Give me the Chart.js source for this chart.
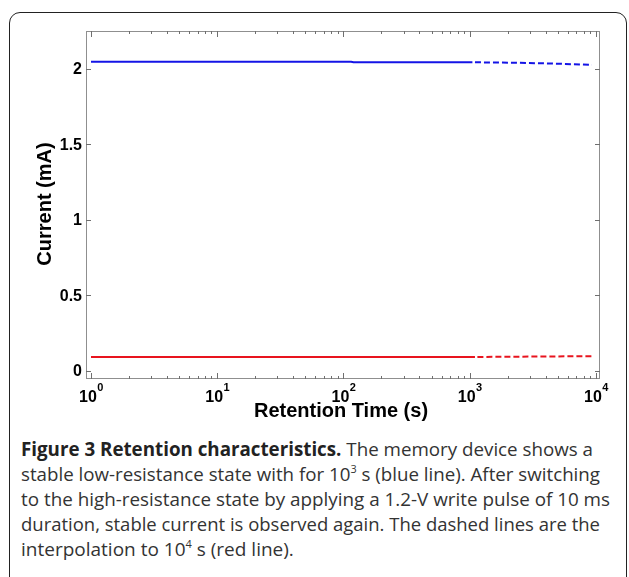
<!DOCTYPE html>
<html>
<head>
<meta charset="utf-8">
<script src="https://cdn.jsdelivr.net/npm/chart.js@4.4.1/dist/chart.umd.min.js"></script>
<style>
    html, body { margin: 0; padding: 0; background: #fff; }
    body { width: 629px; height: 577px; position: relative; overflow: hidden; }
    #frame {
        position: absolute; left: 9px; top: 12px; width: 618px; height: 600px;
        border: 1.6px solid #222; border-radius: 11px; box-sizing: border-box;
    }
    #chart-wrap { position: absolute; left: 0; top: 0; width: 629px; height: 430px; }
    #caption {
        position: absolute; left: 21px; top: 437px; width: 605px;
        font-family: "Open Sans", Lato, sans-serif; font-size: 19px; line-height: 25px;
        color: #333; white-space: nowrap;
    }
    #caption .ln { display: block; height: 25px; }
    #caption .ln span { display: inline-block; transform-origin: 0 50%; }
    #caption b { font-weight: bold; color: #222; }
    #caption sup { font-size: 11px; line-height: 0; vertical-align: 8px; }
</style>
</head>
<body>
<div id="frame"></div>
<div id="chart-wrap"><canvas id="retention-chart" width="629" height="430"></canvas></div>
<div id="caption">
    <div class="ln" data-w="572"><span><b>Figure 3 Retention characteristics.</b> The memory device shows a</span></div>
    <div class="ln" data-w="579"><span>stable low-resistance state with for 10<sup>3</sup> s (blue line). After switching</span></div>
    <div class="ln" data-w="589"><span>to the high-resistance state by applying a 1.2-V write pulse of 10 ms</span></div>
    <div class="ln" data-w="579"><span>duration, stable current is observed again. The dashed lines are the</span></div>
    <div class="ln" data-w="312"><span>interpolation to 10<sup>4</sup> s (red line).</span></div>
</div>
<script>
    // Measured data (time in s, current in mA)
    const lowResSolidTime = [1, 115, 120, 1050];
    const lowResSolidCurrent = [2.047, 2.047, 2.043, 2.043];
    const lowResDashedTime = [1100, 2300, 4400, 9300];
    const lowResDashedCurrent = [2.043, 2.040, 2.035, 2.026];

    const highResSolidTime = [1, 1100];
    const highResSolidCurrent = [0.093, 0.093];
    const highResDashedTime = [1150, 9300];
    const highResDashedCurrent = [0.093, 0.098];

    // Axis ticks
    const xDecades = [0, 1, 2, 3, 4];
    const yTicks = [0, 0.5, 1, 1.5, 2];
    const yTickLabels = ['0', '0.5', '1', '1.5', '2'];

    const toPoints = (xs, ys) => xs.map((x, i) => ({x: x, y: ys[i]}));

    const FONT = '"Liberation Sans", Arial, sans-serif';

    // squeeze caption lines that run wider than in the figure
    document.querySelectorAll('#caption .ln').forEach(ln => {
        const span = ln.querySelector('span');
        const target = parseFloat(ln.dataset.w);
        const w = span.getBoundingClientRect().width;
        span.style.transform = 'scaleX(' + Math.min(1, target / w) + ')';
    });

    const axisFramePlugin = {
        id: 'axisFrame',
        afterDraw(chart) {
            const ctx = chart.ctx;
            const area = chart.chartArea;
            const xScale = chart.scales.x;
            const yScale = chart.scales.y;

            ctx.save();
            ctx.strokeStyle = '#8f8f8f';
            ctx.lineWidth = 1;
            ctx.strokeRect(area.left + 0.5, area.top + 0.5, area.right - area.left - 1, area.bottom - area.top - 1);

            // x ticks, major and minor, inward on bottom and top
            ctx.strokeStyle = '#6f6f6f';
            ctx.beginPath();
            xDecades.forEach(d => {
                const major = Math.round(xScale.getPixelForValue(Math.pow(10, d))) + 0.5;
                ctx.moveTo(major, area.bottom); ctx.lineTo(major, area.bottom - 6);
                ctx.moveTo(major, area.top); ctx.lineTo(major, area.top + 6);
                if (d < xDecades[xDecades.length - 1]) {
                    for (let k = 2; k <= 9; k++) {
                        const px = Math.round(xScale.getPixelForValue(k * Math.pow(10, d))) + 0.5;
                        ctx.moveTo(px, area.bottom); ctx.lineTo(px, area.bottom - 3);
                        ctx.moveTo(px, area.top); ctx.lineTo(px, area.top + 3);
                    }
                }
            });
            // y ticks inward on left and right
            yTicks.forEach(v => {
                const py = Math.round(yScale.getPixelForValue(v)) + 0.5;
                ctx.moveTo(area.left, py); ctx.lineTo(area.left + 5, py);
                ctx.moveTo(area.right, py); ctx.lineTo(area.right - 5, py);
            });
            ctx.stroke();

            // tick labels
            ctx.fillStyle = '#000';
            ctx.font = 'bold 16px ' + FONT;
            ctx.textAlign = 'right';
            ctx.textBaseline = 'middle';
            yTicks.forEach((v, i) => {
                ctx.fillText(yTickLabels[i], area.left - 4, yScale.getPixelForValue(v) + 1);
            });

            ctx.textBaseline = 'alphabetic';
            ctx.textAlign = 'left';
            xDecades.forEach(d => {
                const px = xScale.getPixelForValue(Math.pow(10, d));
                ctx.font = 'bold 16px ' + FONT;
                const baseW = ctx.measureText('10').width;
                ctx.font = 'bold 11px ' + FONT;
                const expW = ctx.measureText(String(d)).width;
                const startX = px - (baseW + expW) / 2;
                ctx.font = 'bold 16px ' + FONT;
                ctx.fillText('10', startX, area.bottom + 23);
                ctx.font = 'bold 11px ' + FONT;
                ctx.fillText(String(d), startX + baseW + 0.5, area.bottom + 12);
            });

            // axis titles
            ctx.font = 'bold 20px ' + FONT;
            ctx.textAlign = 'center';
            ctx.fillText('Retention Time (s)', (area.left + area.right) / 2 - 2, area.bottom + 38);
            ctx.translate(45, (area.top + area.bottom) / 2 - 1);
            ctx.rotate(-Math.PI / 2);
            ctx.textBaseline = 'middle';
            ctx.fillText('Current (mA)', 0, 0);
            ctx.restore();
        }
    };

    new Chart(document.getElementById('retention-chart'), {
        type: 'line',
        data: {
            datasets: [
                {
                    label: 'LRS',
                    data: toPoints(lowResSolidTime, lowResSolidCurrent),
                    borderColor: '#1414e6',
                    borderWidth: 2
                },
                {
                    label: 'LRS extrapolated',
                    data: toPoints(lowResDashedTime, lowResDashedCurrent),
                    borderColor: '#1414e6',
                    borderWidth: 2,
                    borderDash: [6, 3]
                },
                {
                    label: 'HRS',
                    data: toPoints(highResSolidTime, highResSolidCurrent),
                    borderColor: '#e8141e',
                    borderWidth: 2
                },
                {
                    label: 'HRS extrapolated',
                    data: toPoints(highResDashedTime, highResDashedCurrent),
                    borderColor: '#e8141e',
                    borderWidth: 2,
                    borderDash: [6, 3]
                }
            ]
        },
        options: {
            responsive: false,
            animation: false,
            events: [],
            elements: {
                point: {radius: 0},
                line: {tension: 0, borderCapStyle: 'butt'}
            },
            layout: {padding: {left: 86, top: 31, right: 29, bottom: 51}},
            plugins: {
                legend: {display: false},
                tooltip: {enabled: false}
            },
            scales: {
                x: {type: 'logarithmic', min: 0.913, max: 10760, display: false},
                y: {type: 'linear', min: -0.053, max: 2.25, display: false}
            }
        },
        plugins: [axisFramePlugin]
    });
</script>
</body>
</html>
